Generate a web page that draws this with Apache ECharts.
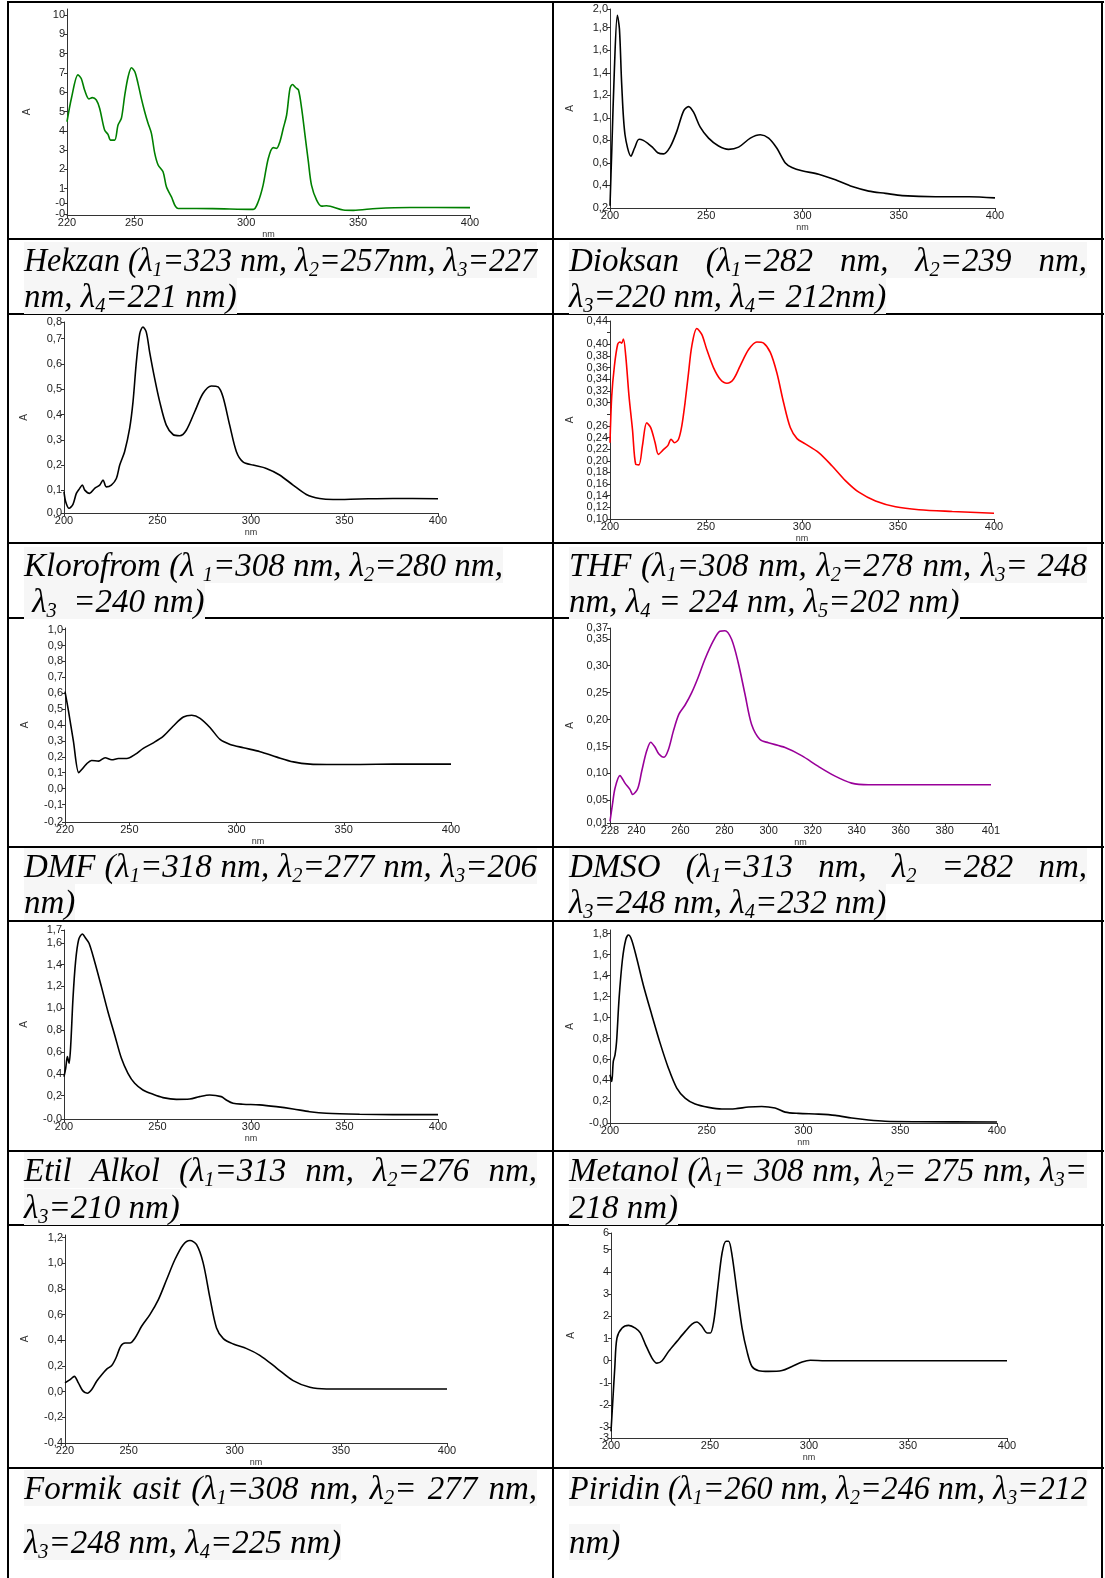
<!DOCTYPE html>
<html>
<head>
<meta charset="utf-8">
<script src="https://cdn.jsdelivr.net/npm/echarts@6/dist/echarts.min.js"></script>
<style>
    html, body { margin: 0; padding: 0; background: #fff; }
    #page { position: relative; width: 1105px; height: 1578px; overflow: hidden; }
    #mychart { position: absolute; left: 0; top: 0; width: 1105px; height: 1578px; }
    .hl { position: absolute; height: 2px; background: #000; }
    .vl { position: absolute; width: 2px; background: #000; }
    .cap {
        position: absolute; height: 36px; line-height: 36px; white-space: nowrap;
        font-family: "Liberation Serif", "Times New Roman", serif; font-style: italic;
        font-size: 33px; color: #000;
    }
    .cap span { background: #f6f6f6; display: inline-block; transform-origin: 0 50%; }
    .cap sub { font-size: 62%; vertical-align: -0.22em; line-height: 0; }
</style>
</head>
<body>
<div id="page">
    <div id="mychart"></div>
    <div id="table"></div>
</div>
<script>
// spectra: [nm, A]
var hekzan = [[220,4.47],[222,5.7],[224.9,6.9],[226.4,6.7],[227.9,6.1],[229.8,5.65],[231.3,5.72],[233.1,5.6],[234.6,5.16],[236.8,4.04],[238.3,3.82],[239.5,3.52],[241.3,3.52],[242.8,4.3],[244.3,4.65],[245.8,5.85],[247.3,6.8],[248.8,7.27],[250.3,7.06],[251.7,6.46],[253.2,5.68],[254.7,4.99],[256.2,4.39],[257.7,3.87],[259.2,2.83],[260.7,2.23],[262.9,1.88],[264.4,1.1],[266.6,0.59],[269.6,-0.02],[285,-0.03],[303.2,-0.07],[305.4,0.33],[307.6,1.19],[309.9,2.57],[312.1,3.13],[313.6,3.09],[315.1,3.44],[316.6,4.13],[318.1,4.82],[319.6,6.2],[320.7,6.4],[322.2,6.23],[323.4,6.11],[324.8,5.16],[326.3,3.78],[327.8,2.4],[329.2,1.19],[331.5,0.41],[333.7,0.1],[335.9,0.12],[343.4,-0.1],[347.9,-0.12],[358.3,-0.02],[373.2,0.03],[400,0.02]]
var dioksan = [[200,0.22],[200.9,0.7],[202.3,1.44],[203.8,1.91],[204.9,1.79],[206.1,1.29],[207.8,0.85],[210.9,0.66],[212.7,0.73],[215.1,0.81],[217.3,0.8],[219.9,0.77],[222,0.74],[224.8,0.69],[227.8,0.68],[231.2,0.74],[234.7,0.88],[238.2,1.06],[240.8,1.1],[243.4,1.05],[246.8,0.92],[251.2,0.82],[256.4,0.75],[261.6,0.72],[266.8,0.74],[272.9,0.82],[278.1,0.85],[282.4,0.82],[286.7,0.73],[291.1,0.6],[294.5,0.56],[299.7,0.53],[308.4,0.5],[317.1,0.45],[325.8,0.39],[334.4,0.35],[343.1,0.33],[351.8,0.31],[369.1,0.3],[386.5,0.3],[400,0.29]]
var klorofrom = [[200,0.095],[200.9,0.055],[202.7,0.029],[204.8,0.045],[206.6,0.088],[208.4,0.108],[209.8,0.121],[211.1,0.101],[213.7,0.088],[216.4,0.108],[219.1,0.121],[220.9,0.141],[222.6,0.114],[225.3,0.121],[228,0.147],[229.8,0.2],[232.4,0.253],[235.1,0.345],[236.9,0.45],[238.7,0.608],[240.5,0.72],[242.2,0.746],[244,0.726],[245.8,0.647],[248.5,0.542],[251.2,0.45],[254.7,0.358],[258.3,0.321],[261.9,0.316],[265.4,0.338],[269.9,0.411],[274.3,0.483],[278.8,0.513],[282.4,0.509],[285,0.47],[288.6,0.358],[292.2,0.253],[295.7,0.213],[301.1,0.2],[308.2,0.187],[315.3,0.161],[322.5,0.121],[329.6,0.084],[336.7,0.068],[343.9,0.064],[358.1,0.066],[375.9,0.068],[400,0.067]]
var thf = [[200,0.231],[200.9,0.311],[202.3,0.363],[204,0.4],[205.2,0.404],[206.1,0.402],[207,0.409],[208.2,0.38],[209.9,0.311],[211.7,0.254],[213.4,0.194],[215.1,0.193],[216.9,0.226],[219.1,0.265],[221.2,0.257],[223.5,0.231],[225.2,0.211],[227.8,0.219],[230.1,0.226],[231.8,0.237],[233.6,0.231],[235.7,0.237],[237.4,0.26],[239.1,0.3],[240.9,0.351],[242.6,0.397],[245.2,0.427],[247.8,0.417],[250.4,0.391],[253.9,0.36],[257.4,0.34],[260.9,0.333],[264.3,0.34],[267.8,0.363],[272.2,0.391],[276.5,0.404],[280,0.402],[283.5,0.386],[286.9,0.351],[290.4,0.3],[293.9,0.257],[297.4,0.238],[301.7,0.229],[308.7,0.214],[315.7,0.191],[322.6,0.166],[329.6,0.146],[338.3,0.131],[348.7,0.121],[360.9,0.116],[378.3,0.113],[400,0.11]]
var dmf = [[220,0.61],[221.6,0.49],[223.9,0.3],[226.4,0.1],[227.8,0.12],[230.1,0.156],[232.4,0.177],[235.6,0.173],[238.7,0.194],[241.8,0.181],[244.9,0.189],[248.8,0.189],[252.7,0.215],[256.5,0.253],[261.2,0.288],[265.9,0.33],[270.5,0.394],[275.2,0.45],[279.1,0.461],[283,0.442],[287.7,0.383],[292.3,0.309],[297,0.278],[303.2,0.257],[311,0.232],[318.8,0.198],[326.5,0.168],[334.3,0.154],[342.1,0.152],[357.6,0.152],[373.2,0.154],[400,0.154]]
var dmso = [[228,0.011],[229.1,0.042],[230.3,0.073],[232.5,0.096],[234.8,0.082],[237.1,0.07],[238.3,0.061],[240.6,0.072],[242.4,0.104],[244.6,0.141],[246.5,0.158],[248.4,0.149],[250.2,0.136],[252.5,0.13],[254.5,0.144],[256.8,0.179],[259.3,0.21],[262.1,0.227],[265.1,0.25],[268.1,0.279],[271.1,0.312],[274.9,0.346],[277.9,0.364],[280.2,0.365],[283.2,0.349],[286.2,0.306],[289.3,0.247],[292.3,0.191],[296.1,0.163],[299.9,0.157],[307.5,0.148],[315,0.133],[322.6,0.113],[330.2,0.095],[337.7,0.082],[345.3,0.079],[360.4,0.079],[375.6,0.079],[401,0.079]]
var etilAlkol = [[200,0.374],[200.9,0.45],[201.8,0.557],[202.7,0.496],[203.6,0.664],[204.8,1.09],[206.2,1.43],[207.8,1.626],[209.8,1.681],[211.6,1.641],[213.4,1.595],[216.4,1.427],[220,1.198],[223.5,0.969],[227.1,0.756],[230.7,0.542],[234.2,0.405],[237.8,0.313],[242.2,0.252],[247.6,0.212],[252.9,0.182],[260.1,0.166],[267.2,0.169],[272.5,0.191],[277.9,0.206],[284.1,0.191],[286.8,0.16],[290.4,0.13],[295.7,0.121],[304.6,0.115],[313.5,0.099],[322.5,0.078],[331.4,0.053],[340.3,0.038],[358.1,0.029],[375.9,0.026],[400,0.026]]
var metanol = [[200,0.454],[200.9,0.39],[201.7,0.581],[202.6,0.644],[203.4,0.771],[204.7,1.184],[206.4,1.549],[208.1,1.74],[209.5,1.787],[211.2,1.74],[213.8,1.565],[217.2,1.311],[221.6,1.025],[225.9,0.756],[230.2,0.517],[234.5,0.327],[238.8,0.232],[244,0.175],[250.9,0.143],[257.8,0.127],[264.7,0.13],[271.6,0.146],[278.4,0.152],[285.3,0.137],[290.5,0.098],[297.4,0.086],[307.8,0.079],[316.4,0.067],[325,0.041],[333.6,0.022],[342.2,0.01],[359.5,0.006],[400,0.003]]
var formikAsit = [[220,0.068],[222.4,0.094],[224.4,0.119],[226.3,0.068],[228.3,0.008],[230.5,-0.013],[232.6,0.016],[234.9,0.081],[237.3,0.132],[239.9,0.179],[242,0.203],[244,0.262],[246.2,0.353],[248.3,0.379],[250.6,0.379],[253,0.418],[256.1,0.509],[260,0.6],[264,0.717],[267.9,0.873],[271.8,1.029],[275.7,1.145],[278.9,1.177],[282,1.145],[285.1,1.003],[288.3,0.73],[291.4,0.496],[294.6,0.413],[299.3,0.371],[305.6,0.335],[311.8,0.283],[319.7,0.184],[327.5,0.086],[335.4,0.034],[343.2,0.021],[366.8,0.021],[400,0.021]]
var piridin = [[200,-3.18],[200.8,-1.98],[201.9,-0.33],[203,1.02],[205.6,1.47],[208.9,1.59],[212.3,1.47],[214.8,1.25],[217.3,0.75],[220.7,0.12],[223.2,-0.11],[225.8,0],[229.1,0.42],[233.3,0.87],[237.5,1.32],[240.9,1.65],[243.4,1.74],[245.9,1.55],[248.5,1.25],[250.2,1.25],[251.9,1.77],[253.9,3.27],[256.1,4.85],[258.1,5.38],[259.4,5.38],[261.1,4.77],[263.6,3.12],[266.2,1.47],[268.7,0.42],[271.2,-0.26],[274.6,-0.45],[279.6,-0.48],[286.4,-0.44],[291.4,-0.26],[296.5,-0.06],[300.7,0.02],[308.2,0],[338.6,0],[400,0]]

// tick values and their printed labels
var xTicks200 = [200, 250, 300, 350, 400]
var xTicks220 = [220, 250, 300, 350, 400]
var xTicksDmso = [228, 240, 260, 280, 300, 320, 340, 360, 380, 401]

var hekzanTicks = [-0.3, 0.26, 1, 2, 3, 4, 5, 6, 7, 8, 9, 10]
var hekzanLabels = ['-0', '-0', '1', '2', '3', '4', '5', '6', '7', '8', '9', '10']
var dioksanTicks = [0.2, 0.4, 0.6, 0.8, 1.0, 1.2, 1.4, 1.6, 1.8, 1.966]
var dioksanLabels = ['0,2', '0,4', '0,6', '0,8', '1,0', '1,2', '1,4', '1,6', '1,8', '2,0']
var klorofromTicks = [0.0105, 0.1, 0.2, 0.3, 0.4, 0.5, 0.6, 0.7, 0.766]
var klorofromLabels = ['0,0', '0,1', '0,2', '0,3', '0,4', '0,5', '0,6', '0,7', '0,8']
var thfTicks = [0.10, 0.12, 0.14, 0.16, 0.18, 0.20, 0.22, 0.24, 0.26, 0.30, 0.32, 0.34, 0.36, 0.38, 0.40, 0.44]
var thfLabels = ['0,10', '0,12', '0,14', '0,16', '0,18', '0,20', '0,22', '0,24', '0,26', '0,30', '0,32', '0,34', '0,36', '0,38', '0,40', '0,44']
var thfTickMarks = [0.10, 0.12, 0.14, 0.16, 0.18, 0.20, 0.22, 0.24, 0.26, 0.28, 0.30, 0.32, 0.34, 0.36, 0.38, 0.40, 0.42, 0.44]
var dmfTicks = [-0.21, -0.1, 0, 0.1, 0.2, 0.3, 0.4, 0.5, 0.6, 0.7, 0.8, 0.9, 1.0]
var dmfLabels = ['-0,2', '-0,1', '0,0', '0,1', '0,2', '0,3', '0,4', '0,5', '0,6', '0,7', '0,8', '0,9', '1,0']
var dmsoTicks = [0.008, 0.05, 0.10, 0.15, 0.20, 0.25, 0.30, 0.35, 0.37]
var dmsoLabels = ['0,01', '0,05', '0,10', '0,15', '0,20', '0,25', '0,30', '0,35', '0,37']
var etilTicks = [-0.014, 0.2, 0.4, 0.6, 0.8, 1.0, 1.2, 1.4, 1.6, 1.717]
var etilLabels = ['-0,0', '0,2', '0,4', '0,6', '0,8', '1,0', '1,2', '1,4', '1,6', '1,7']
var metanolTicks = [-0.006, 0.2, 0.4, 0.6, 0.8, 1.0, 1.2, 1.4, 1.6, 1.8]
var metanolLabels = ['-0,0', '0,2', '0,4', '0,6', '0,8', '1,0', '1,2', '1,4', '1,6', '1,8']
var formikTicks = [-0.4, -0.2, 0, 0.2, 0.4, 0.6, 0.8, 1.0, 1.2]
var formikLabels = ['-0,4', '-0,2', '0,0', '0,2', '0,4', '0,6', '0,8', '1,0', '1,2']
var piridinTicks = [-3.48, -3, -2, -1, 0, 1, 2, 3, 4, 5, 5.75]
var piridinLabels = ['-3', '-3', '-2', '-1', '0', '1', '2', '3', '4', '5', '6']

// box: [left, top, right, bottom] of the plot area on the page
var charts = [
    { data: hekzan, color: '#008000', box: [67, 9, 470, 215], x: [220, 400], y: [-0.36, 10.31], xt: xTicks220, yt: hekzanTicks, yl: hekzanLabels },
    { data: dioksan, color: '#000', box: [610, 9, 995, 208], x: [200, 400], y: [0.2, 1.966], xt: xTicks200, yt: dioksanTicks, yl: dioksanLabels },
    { data: klorofrom, color: '#000', box: [64, 322, 438, 513], x: [200, 400], y: [0.0105, 0.766], xt: xTicks200, yt: klorofromTicks, yl: klorofromLabels },
    { data: thf, color: '#ff0000', box: [610, 321, 994, 519], x: [200, 400], y: [0.10, 0.44], xt: xTicks200, yt: thfTicks, yl: thfLabels, ytk: thfTickMarks },
    { data: dmf, color: '#000', box: [65, 628, 451, 822], x: [220, 400], y: [-0.21, 1.01], xt: xTicks220, yt: dmfTicks, yl: dmfLabels },
    { data: dmso, color: '#990099', box: [610, 628, 991, 823], x: [228, 401], y: [0.008, 0.37], xt: xTicksDmso, yt: dmsoTicks, yl: dmsoLabels },
    { data: etilAlkol, color: '#000', box: [64, 930, 438, 1119], x: [200, 400], y: [-0.014, 1.717], xt: xTicks200, yt: etilTicks, yl: etilLabels },
    { data: metanol, color: '#000', box: [610, 930, 997, 1123], x: [200, 400], y: [-0.006, 1.835], xt: xTicks200, yt: metanolTicks, yl: metanolLabels },
    { data: formikAsit, color: '#000', box: [65, 1235, 447, 1443], x: [220, 400], y: [-0.4, 1.22], xt: xTicks220, yt: formikTicks, yl: formikLabels },
    { data: piridin, color: '#000', box: [611, 1233, 1007, 1438], x: [200, 400], y: [-3.48, 5.75], xt: xTicks200, yt: piridinTicks, yl: piridinLabels },
]

function pickLabel(ticks, labels, v) {
    var best = 0
    for (var i = 1; i < ticks.length; i++) {
        if (Math.abs(ticks[i] - v) < Math.abs(ticks[best] - v)) best = i
    }
    return labels[best]
}

// echarts drops the label next to min/max when they touch, so shuffle the
// end neighbours away from the ends of the list (same set of values)
function spreadEnds(ticks) {
    var t = ticks.slice()
    var n = t.length
    if (n > 4) {
        var a = t[1]; t[1] = t[2]; t[2] = a
        var b = t[n - 2]; t[n - 2] = t[n - 3]; t[n - 3] = b
    }
    return t
}

var grids = [], xAxes = [], yAxes = [], series = []
charts.forEach(function (c, i) {
    grids.push({
        left: c.box[0], top: c.box[1],
        width: c.box[2] - c.box[0], height: c.box[3] - c.box[1],
        containLabel: false, outerBoundsMode: 'none'
    })
    xAxes.push({
        gridIndex: i, type: 'value', min: c.x[0], max: c.x[1],
        name: 'nm', nameLocation: 'middle', nameGap: 15,
        nameTextStyle: { fontSize: 9, color: '#333', fontFamily: 'Liberation Sans' },
        axisLine: { show: true, onZero: false, lineStyle: { color: '#333', width: 1 } },
        axisTick: { show: true, length: 3, customValues: c.xt, lineStyle: { color: '#333' } },
        axisLabel: {
            customValues: spreadEnds(c.xt), fontSize: 11, color: '#222', margin: 2,
            fontFamily: 'Liberation Sans', showMinLabel: true, showMaxLabel: true
        },
        splitLine: { show: false },
    })
    yAxes.push({
        gridIndex: i, type: 'value', min: c.y[0], max: c.y[1],
        name: 'A', nameLocation: 'middle', nameGap: 35, nameRotate: 90,
        nameTextStyle: { fontSize: 10, color: '#333', fontFamily: 'Liberation Sans' },
        axisLine: { show: true, onZero: false, lineStyle: { color: '#333', width: 1 } },
        axisTick: { show: true, length: 3, customValues: c.ytk || c.yt, lineStyle: { color: '#333' } },
        axisLabel: {
            customValues: spreadEnds(c.yt), fontSize: 11, color: '#222', margin: 2,
            fontFamily: 'Liberation Sans', showMinLabel: true, showMaxLabel: true,
            formatter: function (v) {
                return pickLabel(c.yt, c.yl, v)
            }
        },
        splitLine: { show: false },
    })
    series.push({
        type: 'line', xAxisIndex: i, yAxisIndex: i, data: c.data,
        showSymbol: false, smooth: 0.3, clip: true,
        lineStyle: { color: c.color, width: 1.6 },
    })
})

var myChart = echarts.init(document.getElementById('mychart'))
myChart.setOption({
    animation: false,
    backgroundColor: '#fff',
    grid: grids,
    xAxis: xAxes,
    yAxis: yAxes,
    series: series,
})

// table lines and captions
var rowLines = [2, 239, 314, 543, 618, 847, 921, 1151, 1225, 1468]
var colLines = [8, 553, 1102]
var captions = [
    { col: 0, ys: [260, 296], just: [true, false], lines: ['Hekzan (λ<sub>1</sub>=323 nm, λ<sub>2</sub>=257nm, λ<sub>3</sub>=227', 'nm, λ<sub>4</sub>=221 nm)'] },
    { col: 1, ys: [260, 296], just: [true, false], lines: ['Dioksan (λ<sub>1</sub>=282 nm, λ<sub>2</sub>=239 nm,', 'λ<sub>3</sub>=220 nm, λ<sub>4</sub>= 212nm)'] },
    { col: 0, ys: [565, 601], just: [false, false], lines: ['Klorofrom (λ <sub>1</sub>=308 nm, λ<sub>2</sub>=280 nm,', '&nbsp;λ<sub>3</sub> &nbsp;=240 nm)'] },
    { col: 1, ys: [565, 601], just: [true, false], lines: ['THF (λ<sub>1</sub>=308 nm, λ<sub>2</sub>=278 nm, λ<sub>3</sub>= 248', 'nm, λ<sub>4</sub> = 224 nm, λ<sub>5</sub>=202 nm)'] },
    { col: 0, ys: [866, 902], just: [true, false], lines: ['DMF (λ<sub>1</sub>=318 nm, λ<sub>2</sub>=277 nm, λ<sub>3</sub>=206', 'nm)'] },
    { col: 1, ys: [866, 902], just: [true, false], lines: ['DMSO (λ<sub>1</sub>=313 nm, λ<sub>2</sub> =282 nm,', 'λ<sub>3</sub>=248 nm, λ<sub>4</sub>=232 nm)'] },
    { col: 0, ys: [1170, 1207], just: [true, false], lines: ['Etil Alkol (λ<sub>1</sub>=313 nm, λ<sub>2</sub>=276 nm,', 'λ<sub>3</sub>=210 nm)'] },
    { col: 1, ys: [1170, 1207], just: [true, false], lines: ['Metanol (λ<sub>1</sub>= 308 nm, λ<sub>2</sub>= 275 nm, λ<sub>3</sub>=', '218 nm)'] },
    { col: 0, ys: [1488, 1542], just: [true, false], lines: ['Formik asit (λ<sub>1</sub>=308 nm, λ<sub>2</sub>= 277 nm,', 'λ<sub>3</sub>=248 nm, λ<sub>4</sub>=225 nm)'] },
    { col: 1, ys: [1488, 1542], just: [true, false], lines: ['Piridin (λ<sub>1</sub>=260 nm, λ<sub>2</sub>=246 nm, λ<sub>3</sub>=212', 'nm)'] },
]
var colText = [[24, 537], [569, 1087]]

var table = document.getElementById('table')
rowLines.forEach(function (y) {
    var d = document.createElement('div')
    d.className = 'hl'
    d.style.left = colLines[0] + 'px'
    d.style.width = (colLines[2] - colLines[0] + 2) + 'px'
    d.style.top = (y - 1) + 'px'
    table.appendChild(d)
})
colLines.forEach(function (x) {
    var d = document.createElement('div')
    d.className = 'vl'
    d.style.left = (x - 1) + 'px'
    d.style.top = '1px'
    d.style.height = '1577px'
    table.appendChild(d)
})
captions.forEach(function (c) {
    c.lines.forEach(function (html, k) {
        var d = document.createElement('div')
        d.className = 'cap'
        d.style.left = colText[c.col][0] + 'px'
        d.style.top = (c.ys[k] - 18) + 'px'
        var s = document.createElement('span')
        s.innerHTML = html
        d.appendChild(s)
        table.appendChild(d)
        var target = colText[c.col][1] - colText[c.col][0]
        var w = s.getBoundingClientRect().width
        if (w > target) {
            s.style.transform = 'scaleX(' + (target / w) + ')'
        } else if (c.just[k]) {
            var spaces = (s.textContent.match(/ /g) || []).length
            if (spaces > 0) s.style.wordSpacing = ((target - w) / spaces) + 'px'
        }
    })
})
</script>
</body>
</html>
